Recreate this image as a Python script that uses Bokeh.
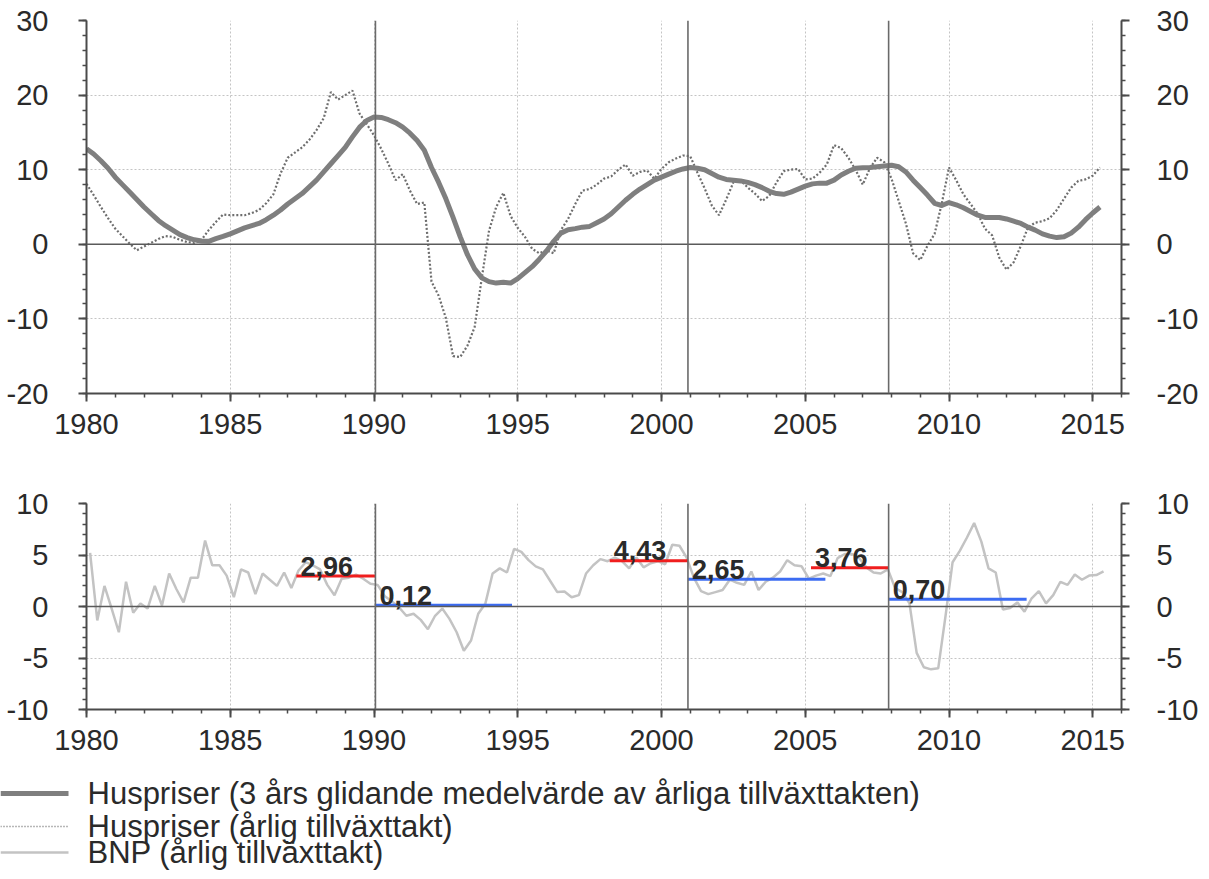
from bokeh.plotting import figure
from bokeh.models import FixedTicker, LinearAxis, Span, Range1d, CustomJSTickFormatter
from bokeh.layouts import column
from bokeh.core.properties import value
from bokeh.embed import file_html
from bokeh.resources import INLINE

# ---------------- data ----------------
start_year = 1980
# House prices, 3-year moving average of annual growth (quarterly, from 1980Q1)
hp_ma = [12.8, 12.1, 11.2, 10.2, 9.0, 8.0, 7.0, 6.0, 5.0, 4.1, 3.2, 2.5, 1.9, 1.3, 0.9, 0.6,
         0.45, 0.4, 0.75, 1.05, 1.4, 1.8, 2.2, 2.5, 2.8, 3.3, 3.9, 4.6, 5.4, 6.1, 6.8, 7.7,
         8.6, 9.7, 10.8, 11.9, 13.0, 14.4, 15.7, 16.6, 17.05, 17.0, 16.7, 16.3, 15.7, 14.9, 13.9, 12.6,
         10.3, 8.3, 6.1, 3.6, 1.0, -1.4, -3.3, -4.5, -5.0, -5.2, -5.1, -5.2, -4.6, -3.8, -3.0, -2.0,
         -0.9, 0.4, 1.5, 1.95, 2.1, 2.3, 2.4, 2.9, 3.4, 4.1, 5.0, 5.9, 6.7, 7.4, 8.0, 8.6,
         9.0, 9.4, 9.8, 10.1, 10.3, 10.2, 10.0, 9.5, 9.0, 8.7, 8.6, 8.5, 8.3, 8.0, 7.6, 7.1,
         6.8, 6.7, 7.0, 7.4, 7.8, 8.1, 8.2, 8.2, 8.6, 9.3, 9.8, 10.2, 10.25, 10.3, 10.4, 10.5,
         10.6, 10.4, 9.7, 8.6, 7.6, 6.6, 5.5, 5.2, 5.6, 5.3, 4.9, 4.4, 3.9, 3.6, 3.6, 3.6,
         3.4, 3.1, 2.8, 2.3, 1.9, 1.4, 1.1, 0.9, 1.0, 1.5, 2.3, 3.3, 4.2, 5.0]
# House prices, annual growth (quarterly)
hp_yoy = [8.1, 6.6, 5.0, 3.5, 2.1, 1.1, 0.1, -0.8, -0.3, 0.2, 0.7, 1.1, 1.0, 0.6, 0.3, 0.2,
          0.6, 1.9, 3.0, 4.0, 3.9, 3.9, 3.9, 4.2, 4.6, 5.5, 6.7, 9.5, 11.6, 12.3, 13.0, 14.0,
          15.3, 16.9, 20.4, 19.4, 20.0, 20.6, 17.5, 16.1, 14.6, 12.8, 10.8, 8.6, 9.4, 7.2, 5.4, 5.6,
          -5.0, -6.9, -9.9, -15.0, -15.1, -13.6, -11.1, -4.5, 1.8, 5.0, 6.9, 3.8, 2.2, 1.0, -0.6, -1.2,
          -0.8, -1.2, 1.9, 3.4, 5.4, 7.2, 7.4, 8.0, 8.8, 9.1, 10.0, 10.7, 9.2, 9.7, 9.9, 8.8,
          10.1, 11.0, 11.5, 11.9, 11.8, 9.6, 7.5, 5.2, 3.9, 6.0, 8.3, 8.6, 7.6, 6.8, 5.8, 6.5,
          8.3, 9.8, 10.0, 10.1, 8.7, 8.8, 9.6, 10.7, 13.3, 12.9, 11.6, 10.0, 8.0, 10.2, 11.6, 11.0,
          8.8, 5.8, 2.8, -1.2, -2.1, -0.2, 1.4, 5.5, 10.3, 8.6, 6.7, 5.4, 4.1, 2.1, 1.2, -1.8,
          -3.4, -2.4, -0.2, 2.3, 2.9, 3.1, 3.5, 4.6, 6.1, 7.6, 8.5, 8.7, 9.2, 10.3]
# GDP (BNP), annual growth (quarterly, mid-quarter)
bnp = [5.2, -1.35, 2.0, -0.2, -2.5, 2.4, -0.6, 0.3, -0.2, 2.0, 0.1, 3.2, 1.7, 0.4, 2.8, 2.8,
       6.4, 4.0, 4.0, 3.0, 0.9, 3.6, 3.3, 1.2, 3.2, 2.6, 2.0, 3.3, 1.8, 3.5, 4.3, 4.0,
       3.6, 2.1, 1.1, 2.7, 2.8, 3.1, 2.7, 2.2, 2.1, 1.0, 0.5, -0.1, -0.9, -0.7, -1.3, -2.2,
       -0.9, -0.2, -1.2, -2.5, -4.3, -3.3, -0.7, 0.3, 3.2, 3.7, 3.3, 5.6, 5.3, 4.5, 3.9, 3.6,
       2.5, 1.4, 1.45, 0.9, 1.1, 3.2, 4.0, 4.6, 4.4, 4.75, 4.4, 3.7, 4.75, 3.8, 4.2, 4.4,
       4.1, 6.0, 5.9, 4.75, 2.8, 1.5, 1.2, 1.4, 1.6, 2.6, 2.3, 2.1, 3.4, 1.6, 2.4, 2.8,
       3.4, 4.5, 4.0, 3.9, 2.7, 3.0, 3.2, 2.95, 4.7, 5.1, 5.1, 4.7, 3.8, 3.3, 3.2, 3.6,
       1.8, 1.4, 0.3, -4.5, -5.9, -6.1, -6.0, -1.0, 4.3, 5.4, 6.7, 8.1, 6.3, 3.7, 3.3, -0.3,
       -0.15, 0.4, -0.5, 0.8, 1.5, 0.3, 1.1, 2.4, 2.1, 3.1, 2.6, 3.0, 3.05, 3.4]

# Turning points (vertical lines) and average GDP growth in periods
turning_points = [1990.05, 2000.92, 2007.9]
avg_start = [1987.3, 1990.05, 1998.2, 2000.92, 2005.2, 2007.9]
avg_end = [1990.05, 1994.8, 2000.92, 2005.7, 2007.9, 2012.7]
avg_value = [2.96, 0.12, 4.43, 2.65, 3.76, 0.70]
avg_kind = ["before", "after", "before", "after", "before", "after"]

x_ticks = [1980, 1985, 1990, 1995, 2000, 2005, 2010, 2015]
top_y_ticks = [-20, -10, 0, 10, 20, 30]
bot_y_ticks = [-10, -5, 0, 5, 10]

legend_labels = ["Huspriser (3 års glidande medelvärde av årliga tillväxttakten)",
                 "Huspriser (årlig tillväxttakt)",
                 "BNP (årlig tillväxttakt)"]

# ---------------- styling ----------------
FONT = "Liberation Sans"
TXT = "#2a2a2a"
AXC = "#4a4a4a"
W = 1201
FRAME_L, FRAME_R = 86, 1133
MA_COLOR = "#7f7f7f"
YOY_COLOR = "#6e6e6e"
BNP_COLOR = "#c3c3c3"
KIND_COLOR = {"before": "#f01e1e", "after": "#3c6cf2"}

hp_x = [start_year + 0.25 * i for i in range(len(hp_ma))]
bnp_x = [start_year + 0.125 + 0.25 * i for i in range(len(bnp))]


def style_axis(ax, ticks, minor, standoff):
    ax.ticker = FixedTicker(ticks=ticks, minor_ticks=minor)
    ax.formatter = CustomJSTickFormatter(code="return String(tick);")
    ax.major_label_text_font = FONT
    ax.major_label_text_font_size = "29px"
    ax.major_label_text_color = TXT
    ax.axis_line_color = AXC
    ax.axis_line_width = 2
    ax.major_tick_line_color = AXC
    ax.major_tick_line_width = 2
    ax.minor_tick_line_color = AXC
    ax.minor_tick_line_width = 1.5
    ax.major_tick_in = 0
    ax.major_tick_out = 8
    ax.minor_tick_in = 0
    ax.minor_tick_out = 4
    ax.major_label_standoff = standoff


def make_panel(height, ylo, yhi, yticks, yminor, border_top, border_bottom):
    p = figure(width=W, height=height, x_range=Range1d(1980, 2016), y_range=Range1d(ylo, yhi),
               output_backend="svg", toolbar_location=None,
               min_border_left=FRAME_L, min_border_right=W - FRAME_R,
               min_border_top=border_top, min_border_bottom=border_bottom)
    p.outline_line_color = None
    p.background_fill_color = "white"
    style_axis(p.xaxis[0], x_ticks, list(range(1980, 2017)), 12)
    style_axis(p.yaxis[0], yticks, yminor, 30)
    ra = LinearAxis()
    style_axis(ra, yticks, yminor, 27)
    p.add_layout(ra, "right")
    p.xgrid.ticker = FixedTicker(ticks=x_ticks)
    p.ygrid.ticker = FixedTicker(ticks=yticks)
    for g in (p.xgrid[0], p.ygrid[0]):
        g.grid_line_color = "#c4c4c4"
        g.grid_line_dash = "2 2"
        g.grid_line_width = 1
    p.add_layout(Span(location=0, dimension="width", line_color="#5a5a5a", line_width=1.5))
    for tp in turning_points:
        p.add_layout(Span(location=tp, dimension="height", line_color="#6a6a6a", line_width=1.6))
    return p


top_minor = list(range(-20, 31, 2))
bot_minor = list(range(-10, 11, 1))

# top panel: frame y 20..393
top = make_panel(453, -20, 30, top_y_ticks, top_minor, 20, 60)
top.line(hp_x, hp_yoy, line_color=YOY_COLOR, line_width=2.2, line_dash="2 2")
top.line(hp_x, hp_ma, line_color=MA_COLOR, line_width=5, line_join="round")

# bottom panel: frame y 503..709
bot = make_panel(315, -10, 10, bot_y_ticks, bot_minor, 50, 59)
bot.line(bnp_x, bnp, line_color=BNP_COLOR, line_width=2.5)
bot.segment(x0=avg_start, y0=avg_value, x1=avg_end, y1=avg_value,
            line_color=[KIND_COLOR[k] for k in avg_kind], line_width=3)
bot.text(x=avg_start, y=avg_value, text=[f"{v:.2f}".replace(".", ",") for v in avg_value],
         x_offset=4, y_offset=-10, text_baseline="alphabetic", text_align="left",
         text_font=value(FONT), text_font_style="bold", text_font_size="27px", text_color=TXT)

# ---------------- legend (drawn in pixel space) ----------------
LH = 103
leg = figure(width=W, height=LH, x_range=Range1d(0, W), y_range=Range1d(LH, 0),
             output_backend="svg", toolbar_location=None,
             x_axis_location=None, y_axis_location=None,
             min_border_left=0, min_border_right=0, min_border_top=0, min_border_bottom=0)
try:
    leg.frame_align = False
except Exception:
    pass
leg.grid.visible = False
leg.outline_line_color = None
row_mid = [25, 58, 84]
sample_x0, sample_x1, text_x = 0, 68, 87
leg.segment(x0=[sample_x0], y0=[row_mid[0]], x1=[sample_x1], y1=[row_mid[0]], line_color=MA_COLOR, line_width=5)
leg.segment(x0=[sample_x0], y0=[row_mid[1]], x1=[sample_x1], y1=[row_mid[1]], line_color=YOY_COLOR,
            line_width=1.5, line_dash="1 2")
leg.segment(x0=[sample_x0], y0=[row_mid[2]], x1=[sample_x1], y1=[row_mid[2]], line_color=BNP_COLOR, line_width=2.5)
leg.text(x=[text_x] * 3, y=row_mid, text=legend_labels, text_baseline="middle", text_align="left",
         text_font=value(FONT), text_font_size="31px", text_color=TXT)

layout = column(top, bot, leg, spacing=0)
open("out.html", "w").write(file_html(layout, INLINE))
